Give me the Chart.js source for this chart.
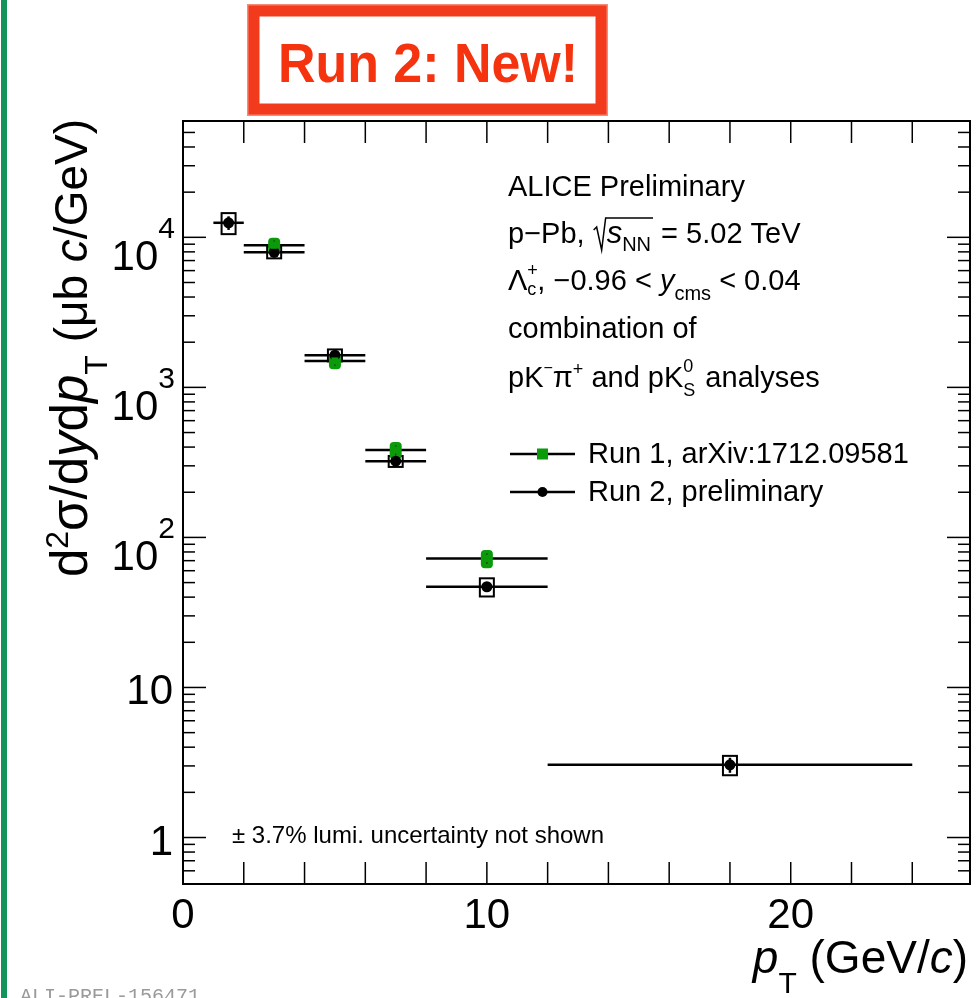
<!DOCTYPE html>
<html>
<head>
<meta charset="utf-8">
<script src="https://cdn.jsdelivr.net/npm/chart.js@4.4.0/dist/chart.umd.min.js"></script>
<style>
  html, body { margin: 0; padding: 0; background: #fff; }
  #wrap { position: relative; width: 980px; height: 998px; overflow: hidden; }
</style>
</head>
<body>
<div id="wrap"><canvas id="xsecChart" width="980" height="998"></canvas></div>
<script>
// Run 1 (arXiv:1712.09581), pT bins in GeV/c, cross section in ub c/GeV
const run1Pt = [3, 5, 7, 10];
const run1PtLow = [2, 4, 6, 8];
const run1PtHigh = [4, 6, 8, 12];
const run1Xsec = [8850, 1500, 382, 72.4];
const run1Stat = [700, 110, 30, 6];
const run1Syst = [1100, 180, 50, 10];

// Run 2 preliminary
const run2Pt = [1.5, 3, 5, 7, 10, 18];
const run2PtLow = [1, 2, 4, 6, 8, 12];
const run2PtHigh = [2, 4, 6, 8, 12, 24];
const run2Xsec = [12500, 7940, 1640, 322, 46.9, 3.05];
const run2Stat = [1300, 600, 90, 20, 3.5, 0.35];
const run2Syst = [2000, 700, 150, 27, 6.5, 0.45];

const xTickLabels = [0, 10, 20];
const yTickLabels = [1, 10, 100, 1000, 10000];

const GREEN = '#0a9a0a';
const FONT = '"Liberation Sans", Arial, Helvetica, sans-serif';

function points(xs, ys) {
    return xs.map((x, i) => ({ x: x, y: ys[i] }));
}

function line(ctx, x1, y1, x2, y2) {
    ctx.beginPath();
    ctx.moveTo(x1, y1);
    ctx.lineTo(x2, y2);
    ctx.stroke();
}

// draw a list of [text, fontSize, italic, dy] pieces starting at x, returns end x
function drawPieces(ctx, pieces, x, y) {
    pieces.forEach(p => {
        ctx.font = (p[2] ? 'italic ' : '') + p[1] + 'px ' + FONT;
        ctx.fillText(p[0], x, y + (p[3] || 0));
        x += ctx.measureText(p[0]).width;
    });
    return x;
}

function piecesWidth(ctx, pieces) {
    let w = 0;
    pieces.forEach(p => {
        ctx.font = (p[2] ? 'italic ' : '') + p[1] + 'px ' + FONT;
        w += ctx.measureText(p[0]).width;
    });
    return w;
}

// error bars and systematic boxes, below the markers
const errorBars = {
    id: 'errorBars',
    beforeDatasetsDraw(chart) {
        const { ctx, scales: { x, y } } = chart;
        ctx.save();

        // Run 2: open black boxes
        ctx.strokeStyle = '#000';
        ctx.lineWidth = 2;
        run2Pt.forEach((pt, i) => {
            const px = x.getPixelForValue(pt);
            const top = y.getPixelForValue(run2Xsec[i] + run2Syst[i]);
            const bot = y.getPixelForValue(run2Xsec[i] - run2Syst[i]);
            ctx.strokeRect(px - 7, top, 14, bot - top);
        });
        ctx.lineWidth = 2.5;
        run2Pt.forEach((pt, i) => {
            const py = y.getPixelForValue(run2Xsec[i]);
            line(ctx, x.getPixelForValue(run2PtLow[i]), py, x.getPixelForValue(run2PtHigh[i]), py);
            const px = x.getPixelForValue(pt);
            line(ctx, px, y.getPixelForValue(run2Xsec[i] + run2Stat[i]), px, y.getPixelForValue(run2Xsec[i] - run2Stat[i]));
        });

        // Run 1: filled green boxes
        run1Pt.forEach((pt, i) => {
            const py = y.getPixelForValue(run1Xsec[i]);
            ctx.strokeStyle = '#000';
            line(ctx, x.getPixelForValue(run1PtLow[i]), py, x.getPixelForValue(run1PtHigh[i]), py);
        });
        run1Pt.forEach((pt, i) => {
            const px = x.getPixelForValue(pt);
            const top = y.getPixelForValue(run1Xsec[i] + run1Syst[i]);
            const bot = y.getPixelForValue(run1Xsec[i] - run1Syst[i]);
            ctx.fillStyle = GREEN;
            ctx.beginPath();
            ctx.roundRect(px - 6, top, 12, bot - top, 4);
            ctx.fill();
            ctx.strokeStyle = '#1d4d1d';
            ctx.lineWidth = 1.5;
            line(ctx, px, y.getPixelForValue(run1Xsec[i] + run1Stat[i]), px, y.getPixelForValue(run1Xsec[i] - run1Stat[i]));
        });
        ctx.restore();
    }
};

// ROOT style frame, ticks, labels, legend and texts
const rootFrame = {
    id: 'rootFrame',
    afterDraw(chart) {
        const { ctx, chartArea: a, scales: { x, y } } = chart;
        ctx.save();

        // frame
        ctx.strokeStyle = '#000';
        ctx.lineWidth = 2;
        ctx.strokeRect(a.left, a.top, a.right - a.left, a.bottom - a.top);

        // x ticks every 2 GeV/c
        ctx.lineWidth = 1.5;
        for (let v = x.min; v <= x.max; v += 2) {
            const px = x.getPixelForValue(v);
            line(ctx, px, a.bottom, px, a.bottom - 22);
            line(ctx, px, a.top, px, a.top + 22);
        }
        // y ticks, log decades
        for (let d = -1; d <= 4; d++) {
            for (let m = 1; m <= 9; m++) {
                const v = m * Math.pow(10, d);
                if (v < y.min || v > y.max) continue;
                const py = y.getPixelForValue(v);
                if (py > a.bottom - 2 || py < a.top + 2) continue;
                const len = m === 1 ? 23 : 12;
                line(ctx, a.left, py, a.left + len, py);
                line(ctx, a.right, py, a.right - len, py);
            }
        }

        // tick labels
        ctx.fillStyle = '#000';
        ctx.textBaseline = 'alphabetic';
        ctx.font = '42px ' + FONT;
        ctx.textAlign = 'center';
        xTickLabels.forEach(v => {
            ctx.fillText(String(v), x.getPixelForValue(v), 928);
        });
        yTickLabels.forEach(v => {
            const py = y.getPixelForValue(v);
            const exp = Math.round(Math.log10(v));
            ctx.textAlign = 'right';
            if (exp <= 1) {
                ctx.font = '42px ' + FONT;
                ctx.fillText(String(v), 173, py + 17);
            } else {
                ctx.font = '30px ' + FONT;
                const ew = ctx.measureText(String(exp)).width;
                ctx.fillText(String(exp), 175, py + 1);
                ctx.font = '42px ' + FONT;
                ctx.fillText('10', 175 - ew, py + 33);
            }
        });

        // axis titles
        ctx.textAlign = 'left';
        const xTitle = [['p', 46, true], ['T', 30, false, 20], [' (GeV/', 46, false], ['c', 46, true], [')', 46, false]];
        drawPieces(ctx, xTitle, 968 - piecesWidth(ctx, xTitle), 973);

        const yTitle = [['d', 51, false], ['2', 32, false, -19], ['σ/d', 51, false], ['y', 51, true], ['d', 51, false],
            ['p', 51, true], ['T', 32, false, 20], [' (μb ', 46, false], ['c', 46, true], ['/GeV)', 46, false]];
        ctx.save();
        ctx.translate(87, a.top - 2);
        ctx.rotate(-Math.PI / 2);
        drawPieces(ctx, yTitle, -piecesWidth(ctx, yTitle), 0);
        ctx.restore();

        // info text
        const tx = 508;
        ctx.font = '29px ' + FONT;
        ctx.fillText('ALICE Preliminary', tx, 196);
        let ex = drawPieces(ctx, [['p\u2212Pb, ', 29, false]], tx, 243);
        // sqrt sign
        ctx.lineWidth = 1.5;
        ctx.beginPath();
        ctx.moveTo(ex + 1, 230);
        ctx.lineTo(ex + 4, 227);
        ctx.lineTo(ex + 9, 250);
        ctx.lineTo(ex + 13, 218);
        const sStart = ex + 14;
        ex = drawPieces(ctx, [['s', 31, true], ['NN', 20, false, 8]], sStart, 243);
        ctx.lineTo(ex + 2, 218);
        ctx.stroke();
        drawPieces(ctx, [[' = 5.02 TeV', 29, false]], ex + 2, 243);

        ex = drawPieces(ctx, [['\u039B', 29, false]], tx, 290);
        drawPieces(ctx, [['+', 18, false, -14]], ex, 290);
        ex = drawPieces(ctx, [['c', 18, false, 5]], ex, 290);
        ex = drawPieces(ctx, [[', \u22120.96 < ', 29, false], ['y', 29, true]], ex + 1, 290);
        ex = drawPieces(ctx, [['cms', 20, false, 10]], ex, 290);
        drawPieces(ctx, [[' < 0.04', 29, false]], ex, 290);

        ctx.font = '29px ' + FONT;
        ctx.fillText('combination of', tx, 338);
        ex = drawPieces(ctx, [['pK', 29, false], ['\u2212', 16, false, -14], ['\u03C0', 29, false], ['+', 18, false, -12], [' and pK', 29, false]], tx, 387);
        drawPieces(ctx, [['0', 18, false, -15]], ex, 387);
        ex = drawPieces(ctx, [['S', 18, false, 9]], ex, 387);
        drawPieces(ctx, [[' analyses', 29, false]], ex + 2, 387);

        // legend
        const legend = [
            { label: 'Run 1, arXiv:1712.09581', y: 454, marker: 'square' },
            { label: 'Run 2, preliminary', y: 492, marker: 'circle' }
        ];
        legend.forEach(item => {
            ctx.strokeStyle = '#000';
            ctx.lineWidth = 2.5;
            line(ctx, 510, item.y, 575, item.y);
            if (item.marker === 'square') {
                ctx.fillStyle = GREEN;
                ctx.fillRect(537, item.y - 5.5, 11, 11);
            } else {
                ctx.fillStyle = '#000';
                ctx.beginPath();
                ctx.arc(542.5, item.y, 5, 0, Math.PI * 2);
                ctx.fill();
            }
            ctx.fillStyle = '#000';
            ctx.font = '29px ' + FONT;
            ctx.fillText(item.label, 588, item.y + 9);
        });

        ctx.font = '24px ' + FONT;
        ctx.fillText('\u00B1 3.7% lumi. uncertainty not shown', 232, 843);

        // preliminary id
        ctx.fillStyle = '#9a9a9a';
        ctx.font = '20px "Liberation Mono", "DejaVu Sans Mono", monospace';
        ctx.fillText('ALI-PREL-156471', 20, 1002);

        // green margin line
        ctx.strokeStyle = '#12935a';
        ctx.lineWidth = 6;
        line(ctx, 4, 0, 4, 998);

        // red stamp
        ctx.strokeStyle = '#f23a1c';
        ctx.lineWidth = 11;
        ctx.strokeRect(254, 11, 347, 98);
        ctx.lineWidth = 2;
        ctx.strokeStyle = 'rgba(242,58,28,0.6)';
        ctx.strokeRect(248, 5, 359, 110);
        ctx.fillStyle = '#f5330f';
        ctx.font = 'bold 55px ' + FONT;
        const stampText = 'Run 2: New!';
        const sw = ctx.measureText(stampText).width;
        ctx.save();
        ctx.translate(278, 82);
        ctx.scale(300 / sw, 1);
        ctx.fillText(stampText, 0, 0);
        ctx.restore();

        ctx.restore();
    }
};

const ctx = document.getElementById('xsecChart').getContext('2d');
window.xsecChart = new Chart(ctx, {
    type: 'scatter',
    data: {
        datasets: [
            {
                label: 'Run 1, arXiv:1712.09581',
                data: points(run1Pt, run1Xsec),
                pointStyle: 'rect',
                pointRadius: 5,
                backgroundColor: GREEN,
                borderColor: GREEN,
                borderWidth: 0
            },
            {
                label: 'Run 2, preliminary',
                data: points(run2Pt, run2Xsec),
                pointStyle: 'circle',
                pointRadius: 5.5,
                backgroundColor: '#000',
                borderColor: '#000',
                borderWidth: 0
            }
        ]
    },
    options: {
        responsive: false,
        animation: false,
        devicePixelRatio: 1,
        layout: { padding: { top: 121, right: 10, left: 0, bottom: 0 } },
        plugins: {
            legend: { display: false },
            tooltip: { enabled: false }
        },
        scales: {
            x: {
                type: 'linear',
                min: 0,
                max: 25.9,
                grid: { display: false },
                border: { display: false },
                ticks: { display: false },
                afterFit: s => { s.height = 114; }
            },
            y: {
                type: 'logarithmic',
                min: 0.49,
                max: 59600,
                grid: { display: false },
                border: { display: false },
                ticks: { display: false },
                afterFit: s => { s.width = 183; }
            }
        }
    },
    plugins: [errorBars, rootFrame]
});
</script>
</body>
</html>
